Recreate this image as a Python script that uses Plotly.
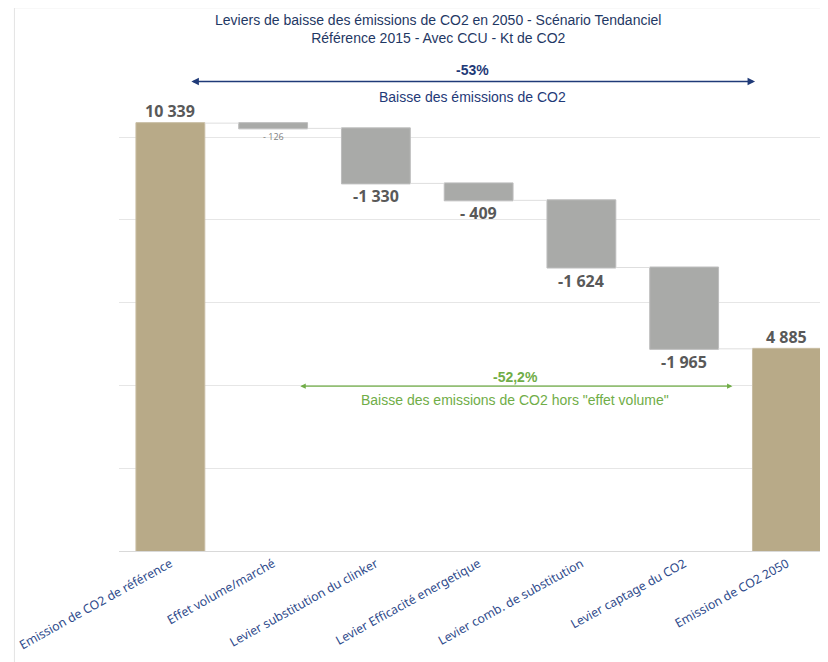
import plotly.graph_objects as go

# ---- data ----
categories = [
    "Emission de CO2 de référence",
    "Effet volume/marché",
    "Levier substitution du clinker",
    "Levier Efficacité energetique",
    "Levier comb. de substitution",
    "Levier captage du CO2",
    "Emission de CO2 2050",
]
values = [10339, -126, -1330, -409, -1624, -1965, 4885]
measures = ["absolute", "relative", "relative", "relative", "relative", "relative", "total"]

title_lines = ["Leviers de baisse des émissions de CO2 en 2050 - Scénario Tendanciel",
               "Référence 2015 - Avec CCU - Kt de CO2"]
total_change_label = "-53%"
total_change_text = "Baisse des émissions de CO2"
excl_volume_label = "-52,2%"
excl_volume_text = 'Baisse des emissions de CO2 hors "effet volume"'

NAVY = "#1f3a78"
GREEN = "#70ad47"
TAN = "#b8aa88"
GREY = "#a9aaa8"
LABEL = "#595959"


def fmt(v):
    s = f"{abs(v):,}".replace(",", " ")
    if v < 0:
        return ("-" if abs(v) >= 1000 else "- ") + s
    return s


fig = go.Figure()
fig.add_trace(go.Waterfall(
    x=categories,
    y=values,
    measure=measures,
    increasing=dict(marker=dict(color=GREY)),
    decreasing=dict(marker=dict(color=GREY, line=dict(color="#bdbdbd", width=1))),
    totals=dict(marker=dict(color=TAN, line=dict(color="#c8bda3", width=1))),
    connector=dict(line=dict(color="#dedede", width=1)),
    textinfo="none",
    hoverinfo="skip",
    showlegend=False,
))

annotations = []
# value labels computed from the data
cum = 0
for i, (c, v, m) in enumerate(zip(categories, values, measures)):
    if m == "absolute":
        cum = v
        annotations.append(dict(x=c, y=cum, xref="x", yref="y", text=f"<b>{fmt(v)}</b>",
                                showarrow=False, yanchor="bottom", yshift=-1,
                                font=dict(family="Open Sans", size=16, color=LABEL)))
    elif m == "total":
        annotations.append(dict(x=c, y=cum, xref="x", yref="y", text=f"<b>{fmt(cum)}</b>",
                                showarrow=False, yanchor="bottom", yshift=-1,
                                font=dict(family="Open Sans", size=16, color=LABEL)))
    else:
        cum += v
        small = abs(v) < 200
        annotations.append(dict(x=c, y=cum, xref="x", yref="y",
                                text=fmt(v) if small else f"<b>{fmt(v)}</b>",
                                showarrow=False, yanchor="top", yshift=0,
                                font=dict(family="Open Sans", size=9 if small else 16,
                                          color="#7f7f7f" if small else LABEL)))

# title
annotations.append(dict(x=0.45, y=1.05, xref="paper", yref="paper", yanchor="middle",
                        text="<br>".join(title_lines), showarrow=False,
                        font=dict(family="Liberation Sans, Arial", size=14, color="#1f3864"),
                        align="center"))

# navy double arrow
annotations.append(dict(x=5.69, y=11348, ax=0.19, ay=11348, xref="x", yref="y",
                        axref="x", ayref="y", text="", showarrow=True,
                        arrowhead=2, arrowside="end+start", arrowsize=1.0,
                        arrowwidth=1.5, arrowcolor=NAVY, standoff=0, startstandoff=0))
annotations.append(dict(x=2.94, y=11614, xref="x", yref="y", text=f"<b>{total_change_label}</b>",
                        showarrow=False,
                        font=dict(family="Liberation Sans, Arial", size=14, color=NAVY)))
annotations.append(dict(x=2.94, y=10962, xref="x", yref="y", text=total_change_text,
                        showarrow=False,
                        font=dict(family="Liberation Sans, Arial", size=14, color=NAVY)))

# green double arrow
annotations.append(dict(x=5.47, y=3984, ax=1.25, ay=3984, xref="x", yref="y",
                        axref="x", ayref="y", text="", showarrow=True,
                        arrowhead=2, arrowside="end+start", arrowsize=0.9,
                        arrowwidth=1.2, arrowcolor=GREEN, standoff=0, startstandoff=0))
annotations.append(dict(x=3.355, y=4210, xref="x", yref="y", text=f"<b>{excl_volume_label}</b>",
                        showarrow=False,
                        font=dict(family="Liberation Sans, Arial", size=14, color=GREEN)))
annotations.append(dict(x=3.355, y=3640, xref="x", yref="y", text=excl_volume_text,
                        showarrow=False,
                        font=dict(family="Liberation Sans, Arial", size=14, color=GREEN)))

shapes = [
    dict(type="line", xref="paper", yref="paper", x0=-0.1475, x1=-0.1475, y0=-0.25, y1=1.093,
         line=dict(color="#e3e3e3", width=1)),
    dict(type="line", xref="paper", yref="paper", x0=-0.1475, x1=1.05, y0=1.093, y1=1.093,
         line=dict(color="#e3e3e3", width=1)),
]

fig.update_layout(
    width=828, height=662,
    margin=dict(l=108, r=8, t=46, b=119),
    paper_bgcolor="white", plot_bgcolor="white",
    waterfallgap=0.33,
    annotations=annotations,
    shapes=shapes,
    xaxis=dict(range=[-0.5, 6.4], tickangle=-29, showline=True, linecolor="#d9d9d9",
               showgrid=False, ticks="",
               tickfont=dict(family="Noto Sans", size=12.3, color="#2e4a8b")),
    yaxis=dict(range=[0, 12010], tick0=0, dtick=2000, showticklabels=False, gridcolor="#e6e6e6",
               zeroline=False, showline=False),
)

fig.write_html("out.html")
